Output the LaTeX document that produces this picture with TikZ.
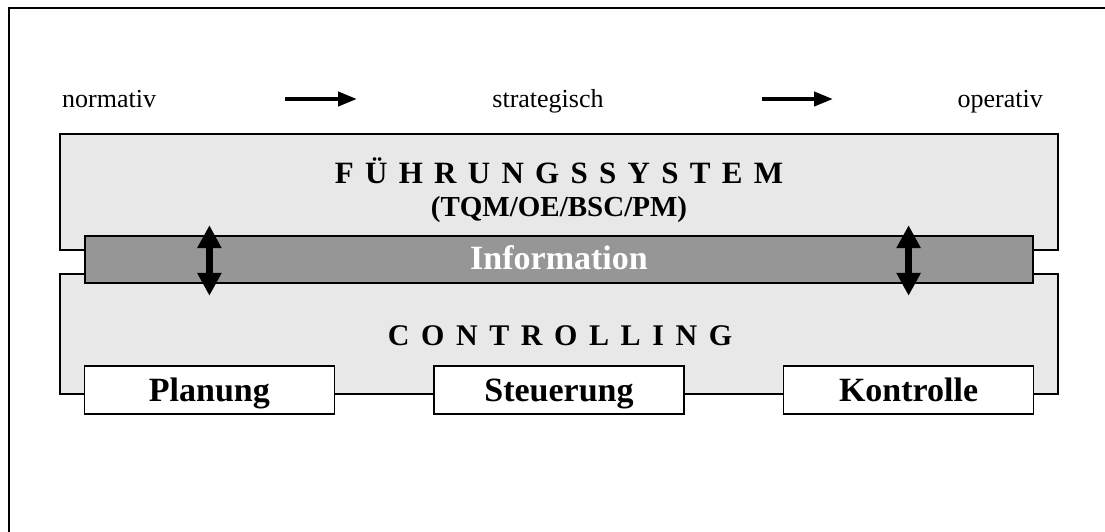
\documentclass[tikz,border=0pt]{standalone}
\usepackage{fontspec}
\setmainfont{Liberation Serif}
\usetikzlibrary{arrows.meta,positioning}

\definecolor{panel}{RGB}{232,232,232}
\definecolor{infobar}{RGB}{150,150,150}
\newcommand{\gaps}[1]{\spaceskip=#1\relax}

\begin{document}
\begin{tikzpicture}[x=1pt,y=-1pt,
  node distance=98pt,
  layer/.style={draw,line width=1.6pt,fill=panel,minimum width=998pt,inner sep=0pt},
  bar/.style={draw,line width=1.6pt,fill=infobar,minimum width=948pt,minimum height=47pt,
              inner sep=0pt,text=white,text height=24pt,text depth=5pt,
              font=\bfseries\fontsize{34}{40}\selectfont},
  task/.style={draw,line width=1.6pt,fill=white,minimum width=250pt,minimum height=48pt,
               inner sep=0pt,text height=23pt,text depth=0pt,
               font=\bfseries\fontsize{34}{40}\selectfont},
  level/.style={inner sep=0pt,font=\fontsize{26}{30}\selectfont},
  title/.style={inner sep=0pt,anchor=base},
  ar/.style={-{Triangle[length=19pt,width=14pt]},line width=4pt},
  dar/.style={{Triangle[length=23pt,width=23pt]}-{Triangle[length=23pt,width=23pt]},line width=7pt}]
\useasboundingbox (0,0) rectangle (1105,532);
\draw[line width=2pt] (9,532) -- (9,8) -- (1105,8);
% levels
\node[level,anchor=base west] (norm) at (62,108) {normativ};
\node[level,anchor=base] (strat) at (548,108) {strategisch};
\node[level,anchor=base east] (oper) at (1043,108) {operativ};
\coordinate (a1) at (285,99); \coordinate (b1) at (357,99);
\coordinate (a2) at (762,99); \coordinate (b2) at (833,99);
\draw[ar] (a1) -- (b1); \draw[ar] (a2) -- (b2);
% layers
\node[layer,minimum height=116pt] (fuehr) at (559,192) {};
\node[layer,minimum height=120pt] (ctrl) at (559,334) {};
\node[bar] (info) at (559,259.5) {Information};
\node[title,font=\bfseries\fontsize{31}{36}\selectfont]
  (fsys) at (559,183) {\gaps{11.3pt}F Ü H R U N G S S Y S T E M};
\node[title,font=\bfseries\fontsize{29}{34}\selectfont] (tqm) at (559,216) {(TQM/OE/BSC/PM)};
\node[title,font=\bfseries\fontsize{30}{35}\selectfont]
  (cname) at (560,345) {\gaps{11.6pt}C O N T R O L L I N G};
% tasks
\node[task] (steu) at (559,390) {Steuerung};
\node[task,left=of steu] (plan) {Planung};
\node[task,right=of steu] (kont) {Kontrolle};
\draw[dar] ([yshift=10pt]plan |- info.north) -- ([yshift=-12pt]plan |- info.south);
\draw[dar] ([yshift=10pt]kont |- info.north) -- ([yshift=-12pt]kont |- info.south);
\end{tikzpicture}
\end{document}
